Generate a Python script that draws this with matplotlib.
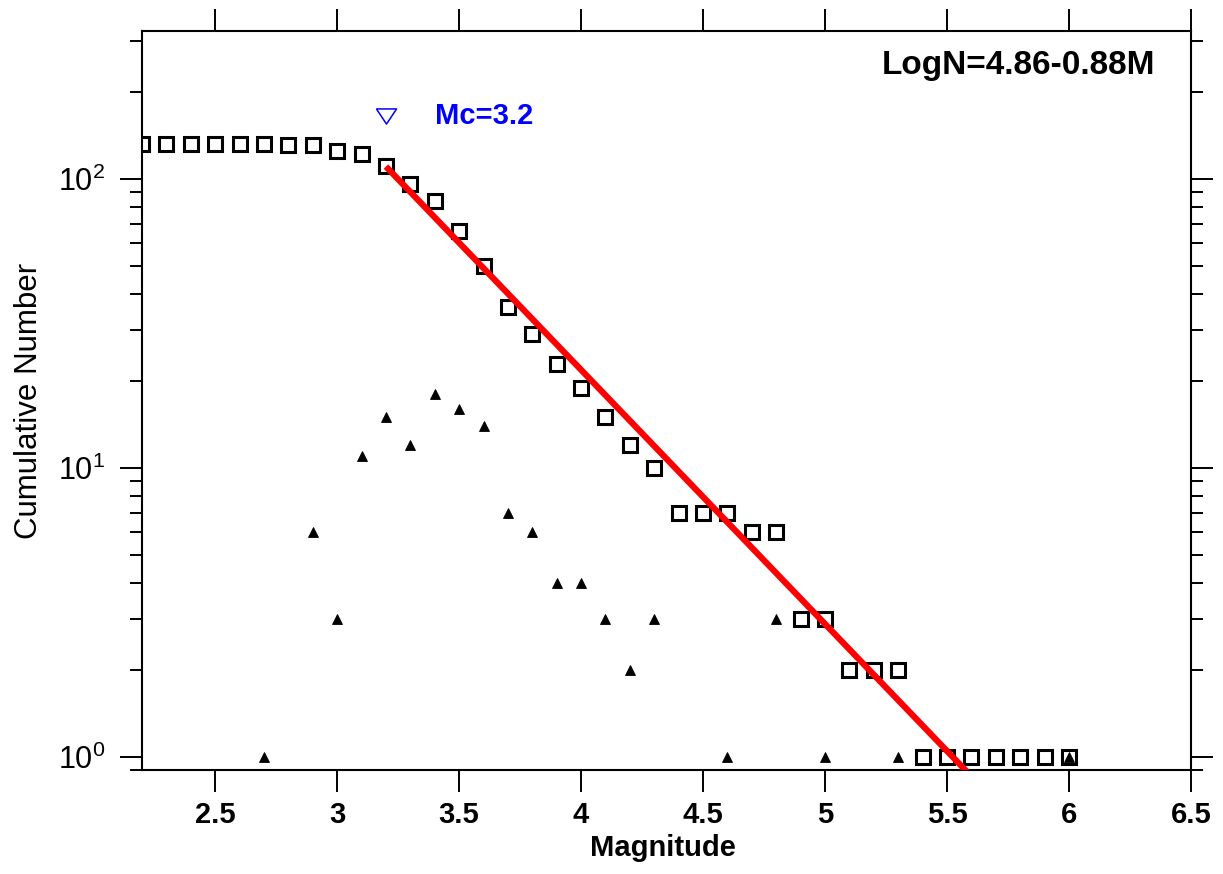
import numpy as np
import matplotlib
matplotlib.use('Agg')
import matplotlib.pyplot as plt
from matplotlib.ticker import LogLocator, MultipleLocator, NullFormatter, NullLocator

plt.rcParams['font.family'] = ['Liberation Sans', 'DejaVu Sans']
plt.rcParams['mathtext.fontset'] = 'custom'
plt.rcParams['mathtext.rm'] = 'Liberation Sans'
plt.rcParams['mathtext.it'] = 'Liberation Sans'
plt.rcParams['mathtext.bf'] = 'Liberation Sans:bold'

# cumulative number of events per magnitude bin
cum_mag = [2.2, 2.3, 2.4, 2.5, 2.6, 2.7, 2.8, 2.9, 3.0, 3.1, 3.2, 3.3, 3.4,
           3.5, 3.6, 3.7, 3.8, 3.9, 4.0, 4.1, 4.2, 4.3, 4.4, 4.5, 4.6, 4.7,
           4.8, 4.9, 5.0, 5.1, 5.2, 5.3, 5.4, 5.5, 5.6, 5.7, 5.8, 5.9, 6.0]
cum_n = [132, 132, 132, 132, 132, 132, 131, 131, 125, 122, 111, 96, 84,
         66, 50, 36, 29, 23, 19, 15, 12, 10, 7, 7, 7, 6,
         6, 3, 3, 2, 2, 2, 1, 1, 1, 1, 1, 1, 1]

# non-cumulative counts
inc_mag = [2.7, 2.9, 3.0, 3.1, 3.2, 3.3, 3.4, 3.5, 3.6, 3.7, 3.8, 3.9, 4.0,
           4.1, 4.2, 4.3, 4.6, 4.8, 5.0, 5.3, 6.0]
inc_n = [1, 6, 3, 11, 15, 12, 18, 16, 14, 7, 6, 4, 4,
         3, 2, 3, 1, 3, 1, 1, 1]

# Gutenberg-Richter fit LogN = a - b*M
a_val = 4.86
b_val = 0.88
mc = 3.2
mc_marker_n = 165
fit_mag = np.array([3.2, 5.6])
fit_n = 10 ** (a_val - b_val * fit_mag)

fig = plt.figure(figsize=(12.23, 8.74), dpi=100)
ax = fig.add_axes([0.1161, 0.119, 0.8577, 0.8455])

ax.plot(cum_mag, cum_n, linestyle='none', marker='s', markersize=10.5,
        markerfacecolor='none', markeredgecolor='black', markeredgewidth=2.2,
        zorder=3)
ax.plot(inc_mag, inc_n, linestyle='none', marker='^', markersize=6.5,
        color='black', markeredgewidth=0.6, zorder=4)
ax.plot(fit_mag, fit_n, color='#ff0000', linewidth=4.5, zorder=5,
        solid_capstyle='butt')

# open down-pointing triangle marking Mc (wider than tall)
tri = [(-1, 0.75), (1, 0.75), (0, -0.75), (-1, 0.75)]
ax.plot([mc], [mc_marker_n], linestyle='none', marker=tri, markersize=14.5,
        markerfacecolor='none', markeredgecolor='#0000ff',
        markeredgewidth=1.1, zorder=4)
ax.text(3.4, mc_marker_n, 'Mc=3.2', color='#0000ff', fontsize=21,
        fontweight='bold', ha='left', va='center')
ax.text(0.9657, 0.954, 'LogN=4.86-0.88M', transform=ax.transAxes,
        fontsize=24, fontweight='bold', ha='right', va='center')

ax.set_yscale('log')
ax.set_xlim(2.2, 6.5)
ax.set_ylim(0.9, 326)

ax.xaxis.set_minor_locator(NullLocator())
ax.yaxis.set_major_locator(LogLocator(base=10))
ax.yaxis.set_minor_locator(LogLocator(base=10, subs=np.arange(2, 10)))
ax.yaxis.set_minor_formatter(NullFormatter())
ax.set_xticks([2.5, 3, 3.5, 4, 4.5, 5, 5.5, 6, 6.5])
ax.set_xticklabels(['2.5', '3', '3.5', '4', '4.5', '5', '5.5', '6', '6.5'],
                   fontweight='bold')

ax.tick_params(which='both', direction='out', top=True, right=True,
               width=1.4, colors='black')
ax.tick_params(which='major', length=15.5)
ax.tick_params(which='minor', length=8.5)
ax.tick_params(axis='x', labelsize=21, pad=7)
ax.tick_params(axis='y', labelsize=22, pad=11)
for s in ax.spines.values():
    s.set_linewidth(1.5)

ax.set_xlabel('Magnitude', fontsize=21, fontweight='bold')
ax.xaxis.set_label_coords(0.4967, -0.087)
ax.set_ylabel('Cumulative Number', fontsize=22.5)
ax.yaxis.set_label_coords(-0.093, 0.5)

fig.savefig('out.png', dpi=100)
